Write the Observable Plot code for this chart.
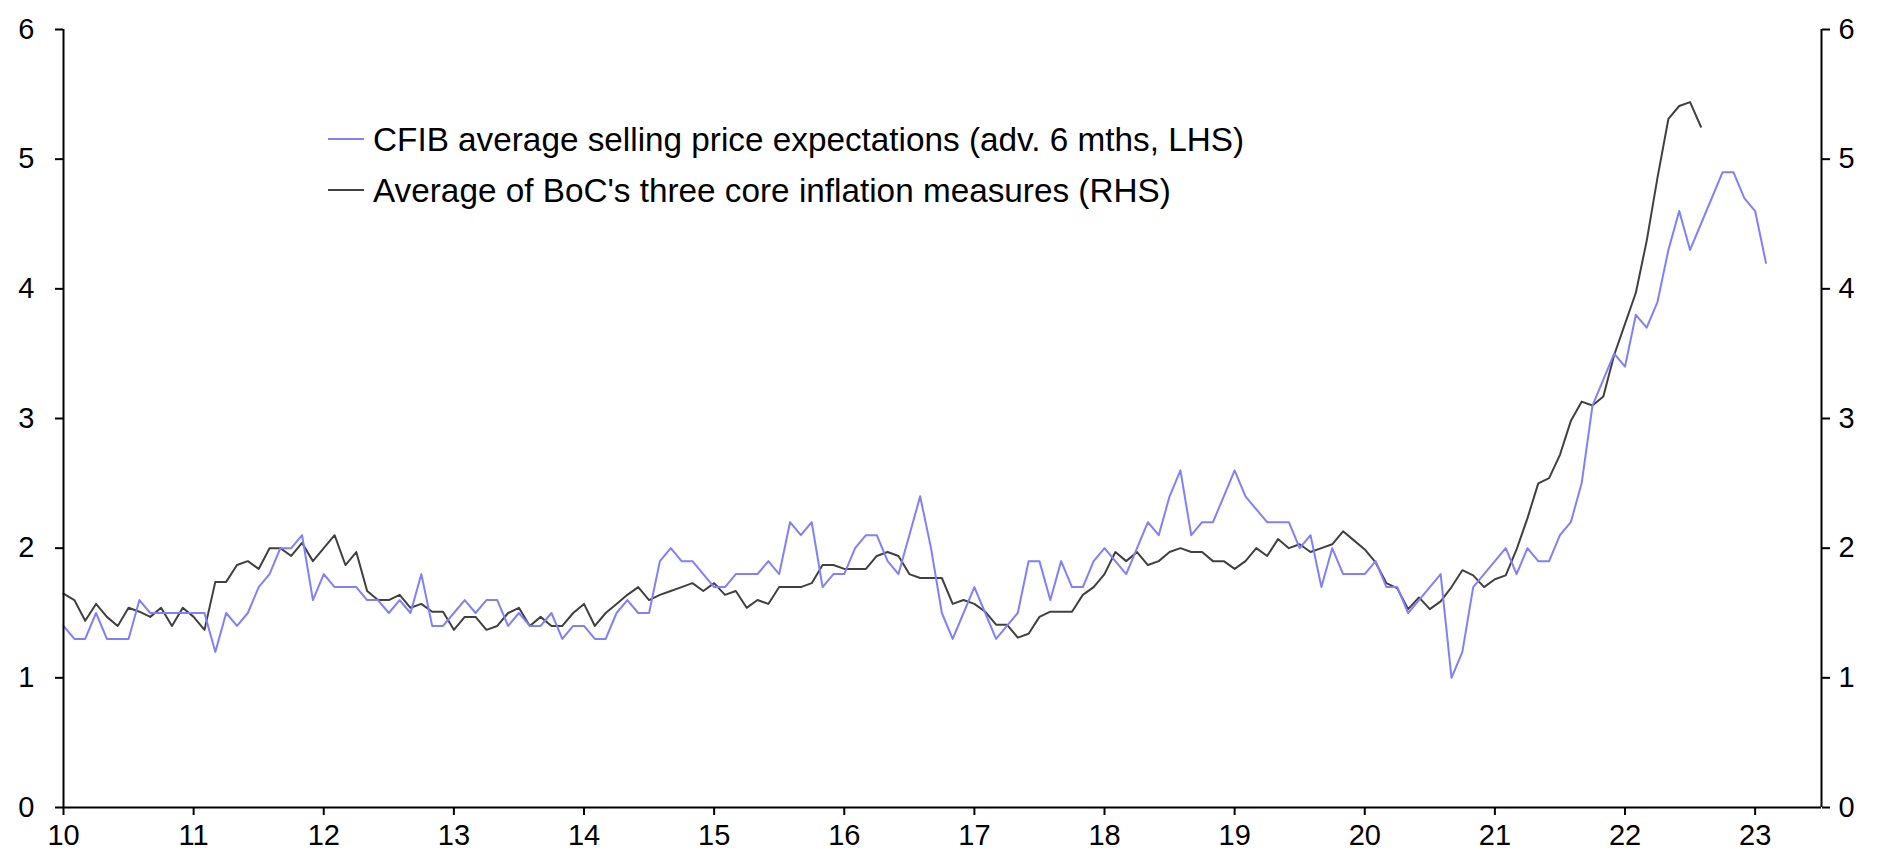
<!DOCTYPE html>
<html>
<head>
<meta charset="utf-8">
<script src="https://cdn.jsdelivr.net/npm/d3@7"></script>
<script src="https://cdn.jsdelivr.net/npm/@observablehq/plot@0.6"></script>
<style>
  html, body { margin: 0; padding: 0; background: #fff; }
  #chart { width: 1890px; height: 863px; }
</style>
</head>
<body>
<div id="chart"></div>
<script>
// Monthly series starting January 2010
const startYear = 2010;

// CFIB average selling price expectations (adv. 6 mths, LHS)
const cfib = [
  1.4, 1.3, 1.3, 1.5, 1.3, 1.3, 1.3, 1.6, 1.5, 1.5, 1.5, 1.5,
  1.5, 1.5, 1.2, 1.5, 1.4, 1.5, 1.7, 1.8, 2.0, 2.0, 2.1, 1.6,
  1.8, 1.7, 1.7, 1.7, 1.6, 1.6, 1.5, 1.6, 1.5, 1.8, 1.4, 1.4,
  1.5, 1.6, 1.5, 1.6, 1.6, 1.4, 1.5, 1.4, 1.4, 1.5, 1.3, 1.4,
  1.4, 1.3, 1.3, 1.5, 1.6, 1.5, 1.5, 1.9, 2.0, 1.9, 1.9, 1.8,
  1.7, 1.7, 1.8, 1.8, 1.8, 1.9, 1.8, 2.2, 2.1, 2.2, 1.7, 1.8,
  1.8, 2.0, 2.1, 2.1, 1.9, 1.8, 2.1, 2.4, 2.0, 1.5, 1.3, 1.5,
  1.7, 1.5, 1.3, 1.4, 1.5, 1.9, 1.9, 1.6, 1.9, 1.7, 1.7, 1.9,
  2.0, 1.9, 1.8, 2.0, 2.2, 2.1, 2.4, 2.6, 2.1, 2.2, 2.2, 2.4,
  2.6, 2.4, 2.3, 2.2, 2.2, 2.2, 2.0, 2.1, 1.7, 2.0, 1.8, 1.8,
  1.8, 1.9, 1.7, 1.7, 1.5, 1.6, 1.7, 1.8, 1.0, 1.2, 1.7, 1.8,
  1.9, 2.0, 1.8, 2.0, 1.9, 1.9, 2.1, 2.2, 2.5, 3.1, 3.3, 3.5,
  3.4, 3.8, 3.7, 3.9, 4.3, 4.6, 4.3, 4.5, 4.7, 4.9, 4.9, 4.7,
  4.6, 4.2
];

// Average of BoC's three core inflation measures (RHS)
const core = [
  1.65, 1.60, 1.44, 1.57, 1.47, 1.40, 1.54, 1.51, 1.47, 1.54, 1.40, 1.54,
  1.47, 1.37, 1.74, 1.74, 1.87, 1.90, 1.84, 2.00, 2.00, 1.94, 2.04, 1.90,
  2.00, 2.10, 1.87, 1.97, 1.67, 1.60, 1.60, 1.64, 1.54, 1.57, 1.51, 1.51,
  1.37, 1.47, 1.47, 1.37, 1.40, 1.50, 1.54, 1.40, 1.47, 1.40, 1.40, 1.50,
  1.57, 1.40, 1.50, 1.57, 1.64, 1.70, 1.60, 1.64, 1.67, 1.70, 1.73, 1.67,
  1.73, 1.64, 1.67, 1.54, 1.60, 1.57, 1.70, 1.70, 1.70, 1.73, 1.87, 1.87,
  1.84, 1.84, 1.84, 1.94, 1.97, 1.94, 1.80, 1.77, 1.77, 1.77, 1.57, 1.60,
  1.57, 1.51, 1.41, 1.41, 1.31, 1.34, 1.47, 1.51, 1.51, 1.51, 1.64, 1.70,
  1.80, 1.97, 1.90, 1.97, 1.87, 1.90, 1.97, 2.00, 1.97, 1.97, 1.90, 1.90,
  1.84, 1.90, 2.00, 1.94, 2.07, 2.00, 2.03, 1.97, 2.00, 2.03, 2.13, 2.06,
  1.99, 1.89, 1.73, 1.69, 1.53, 1.62, 1.53, 1.59, 1.70, 1.83, 1.79, 1.70,
  1.76, 1.79, 1.99, 2.23, 2.50, 2.54, 2.72, 2.98, 3.13, 3.10, 3.17, 3.49,
  3.73, 3.97, 4.37, 4.86, 5.31, 5.41, 5.44, 5.25
];

const yearTicks = [2010, 2011, 2012, 2013, 2014, 2015, 2016, 2017, 2018, 2019, 2020, 2021, 2022, 2023];
const yTicks = [0, 1, 2, 3, 4, 5, 6];
const xDomain = [2010, 2023.51];
const yDomain = [0, 6];

const seriesNames = [
  "CFIB average selling price expectations (adv. 6 mths, LHS)",
  "Average of BoC's three core inflation measures (RHS)"
];
const seriesColors = ["#7f7fff", "#404040"];

const toRows = arr => arr.map((v, i) => ({ x: startYear + i / 12, y: v }));

const FONT = "'Liberation Sans', Arial, Helvetica, sans-serif";

const plot = Plot.plot({
  width: 1890,
  height: 863,
  marginLeft: 63,
  marginRight: 69,
  marginTop: 29,
  marginBottom: 56,
  style: { fontFamily: FONT, fontSize: "29px", color: "#000", background: "#fff", overflow: "visible" },
  x: { domain: xDomain, label: null },
  y: { domain: yDomain, label: null },
  marks: [
    Plot.line(toRows(core), { x: "x", y: "y", stroke: seriesColors[1], strokeWidth: 2 }),
    Plot.line(toRows(cfib), { x: "x", y: "y", stroke: seriesColors[0], strokeWidth: 2 }),
    Plot.axisX({ ticks: yearTicks, tickFormat: d => String(d).slice(2), tickSize: 8, tickPadding: 9, stroke: "#000", strokeWidth: 2, fontSize: 29, fill: "#000", label: null }),
    Plot.axisY({ anchor: "left", ticks: yTicks, tickFormat: d => String(d), tickSize: 8, tickPadding: 21, stroke: "#000", strokeWidth: 2, fontSize: 29, fill: "#000", label: null }),
    Plot.axisY({ anchor: "right", ticks: yTicks, tickFormat: d => String(d), tickSize: 8, tickPadding: 9, stroke: "#000", strokeWidth: 2, fontSize: 29, fill: "#000", label: null }),
    Plot.ruleX([xDomain[0]], { stroke: "#000", strokeWidth: 2 }),
    Plot.ruleX([xDomain[1]], { stroke: "#000", strokeWidth: 2 }),
    Plot.ruleY([yDomain[0]], { stroke: "#000", strokeWidth: 2 })
  ]
});

document.getElementById("chart").appendChild(plot);

// Legend inside the plot area (not data marks)
const svg = d3.select(plot);
const lg = svg.append("g")
  .attr("font-family", FONT)
  .attr("font-size", 33.3)
  .attr("text-anchor", "start");
const rowsY = [139, 190];
seriesNames.forEach((name, k) => {
  lg.append("line")
    .attr("x1", 328).attr("x2", 364)
    .attr("y1", rowsY[k]).attr("y2", rowsY[k])
    .attr("stroke", seriesColors[k]).attr("stroke-width", 2);
  lg.append("text")
    .attr("x", 373).attr("y", rowsY[k])
    .attr("dy", "0.35em")
    .attr("text-anchor", "start")
    .attr("fill", "#000")
    .text(name);
});
</script>
</body>
</html>
